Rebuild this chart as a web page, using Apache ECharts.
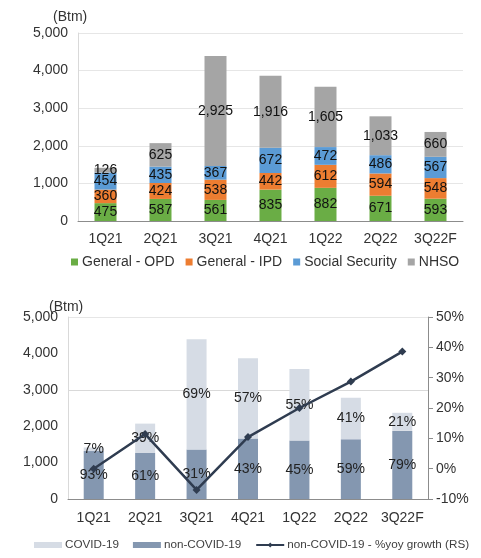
<!DOCTYPE html>
<html>
<head>
<meta charset="utf-8" />
<title>Revenue</title>
<script src="https://cdn.jsdelivr.net/npm/echarts@6/dist/echarts.min.js"></script>
<style>
	html,body{ margin:0; padding:0; background:#fff;}
	#top{ width:481px; height:280px;}
	#bottom{ width:481px; height:278px;}
</style>
</head>
<body>
<div id="top"></div>
<div id="bottom"></div>
<script>
var quarters=['1Q21','2Q21','3Q21','4Q21','1Q22','2Q22','3Q22F'];
// top chart (Btm)
var opd=[475,587,561,835,882,671,593];
var ipd=[360,424,538,442,612,594,548];
var sso=[454,435,367,672,472,486,567];
var nhso=[126,625,2925,1916,1605,1033,660];
// bottom chart (Btm) and shares
var covid=[99,808,3030,2203,1964,1141,497];
var nonCovid=[1316,1263,1361,1662,1607,1643,1871];
var covidPct=[7,39,69,57,55,41,21];
var nonCovidPct=[93,61,31,43,45,59,79];
var yoyGrowth=[0,11.4,-7,10.4,20,28.7,38.6];

var font='"Liberation Sans", Arial, sans-serif';
var txt='#333';

function fmt(v){ return v.toLocaleString('en-US'); }

function stackBar(name,data,color){
	return {
		name:name, type:'bar', stack:'a', data:data, barWidth:22,
		itemStyle:{color:color},
		label:{show:true, position:'inside', color:'#111', fontSize:14, fontFamily:font,
			formatter:function(p){ return fmt(p.value); }}
	};
}

var topChart=echarts.init(document.getElementById('top'));
topChart.setOption({
	animation:false,
	textStyle:{fontFamily:font},
	title:{text:'(Btm)', left:48, top:5, textStyle:{fontSize:14, fontWeight:'normal', color:txt, fontFamily:font}},
	grid:{left:78, right:18, top:33, bottom:59},
	legend:{
		bottom:6, left:66, width:470, itemWidth:7, itemHeight:7, itemGap:11, icon:'rect',
		textStyle:{fontSize:14, color:txt, fontFamily:font, padding:[0,0,0,-1]},
		data:['General - OPD','General - IPD','Social Security','NHSO']
	},
	xAxis:{
		type:'category', data:quarters,
		axisLine:{lineStyle:{color:'#8c8c8c'}},
		axisTick:{show:false},
		axisLabel:{color:txt, fontSize:14, margin:11, interval:0}
	},
	yAxis:{
		type:'value', min:0, max:5000, interval:1000,
		axisLine:{show:true, lineStyle:{color:'#d9d9d9'}},
		splitLine:{lineStyle:{color:'#e6e6e6'}},
		axisLabel:{color:txt, fontSize:14, margin:10, formatter:function(v){ return fmt(v); }}
	},
	series:[
		stackBar('General - OPD',opd,'#6aad45'),
		stackBar('General - IPD',ipd,'#ed7d31'),
		stackBar('Social Security',sso,'#5b9bd5'),
		stackBar('NHSO',nhso,'#a5a5a5')
	]
});

var botChart=echarts.init(document.getElementById('bottom'));
botChart.setOption({
	animation:false,
	textStyle:{fontFamily:font},
	title:{text:'(Btm)', left:44, top:15, textStyle:{fontSize:14, fontWeight:'normal', color:txt, fontFamily:font}},
	grid:{left:68, right:53, top:37, bottom:59},
	legend:{
		bottom:2, left:29, width:470, itemWidth:28, itemHeight:6, itemGap:14,
		textStyle:{fontSize:11.7, color:'#404040', fontFamily:font, padding:[0,0,0,-2]},
		data:[
			{name:'COVID-19', icon:'rect'},
			{name:'non-COVID-19', icon:'rect'},
			{name:'non-COVID-19 - %yoy growth (RS)'}
		]
	},
	xAxis:{
		type:'category', data:quarters,
		axisLine:{lineStyle:{color:'#8c8c8c'}},
		axisTick:{show:false},
		axisLabel:{color:txt, fontSize:14, margin:12, interval:0}
	},
	yAxis:[
		{
			type:'value', min:0, max:5000, interval:1000,
			axisLine:{show:true, lineStyle:{color:'#d9d9d9'}},
			splitLine:{lineStyle:{color:['transparent','transparent','transparent','#d9d9d9','transparent','#e6e6e6']}},
			axisLabel:{color:txt, fontSize:14, margin:10, formatter:function(v){ return fmt(v); }}
		},
		{
			type:'value', min:-10, max:50, interval:10, position:'right',
			axisLine:{show:true, lineStyle:{color:'#8c8c8c'}},
			axisTick:{show:true, length:5, lineStyle:{color:'#8c8c8c'}},
			splitLine:{show:false},
			axisLabel:{color:txt, fontSize:14, margin:8, formatter:'{value}%'}
		}
	],
	series:[
		{
			name:'non-COVID-19', type:'bar', stack:'b', data:nonCovid, barWidth:20,
			itemStyle:{color:'#8497b0'},
			label:{show:true, position:'inside', color:'#222', fontSize:14, fontFamily:font,
				formatter:function(p){ return nonCovidPct[p.dataIndex]+'%'; }}
		},
		{
			name:'COVID-19', type:'bar', stack:'b', data:covid, barWidth:20,
			itemStyle:{color:'#d6dce5'},
			label:{show:true, position:'inside', color:'#222', fontSize:14, fontFamily:font,
				formatter:function(p){ return covidPct[p.dataIndex]+'%'; }}
		},
		{
			name:'non-COVID-19 - %yoy growth (RS)', type:'line', yAxisIndex:1, data:yoyGrowth,
			symbol:'diamond', symbolSize:8, z:5,
			lineStyle:{color:'#2f3c50', width:2.5},
			itemStyle:{color:'#2f3c50'}
		}
	]
});
</script>
</body>
</html>
